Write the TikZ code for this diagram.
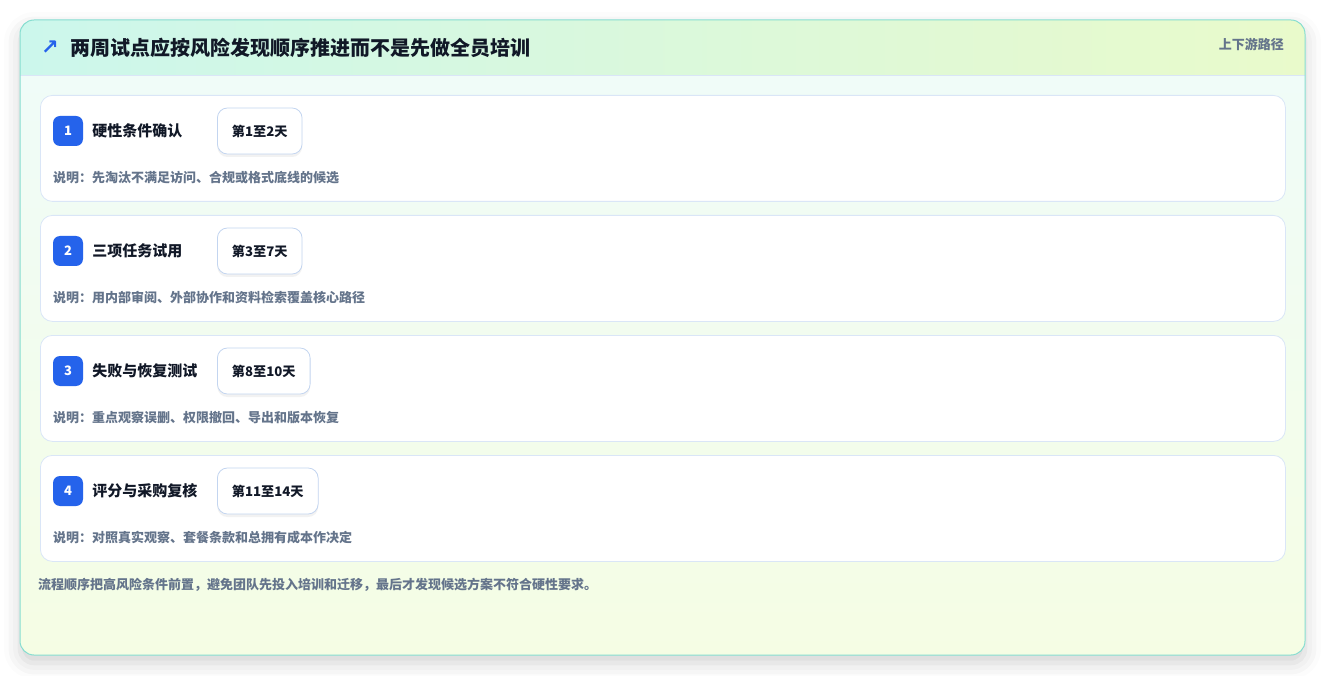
\documentclass[tikz,border=0pt]{standalone}
\usepackage{fontspec}
\setmainfont{Noto Sans CJK SC}
\newfontfamily\symfont{DejaVu Sans}
\usepackage{xcolor}
\usepackage{tikz}
\usetikzlibrary{positioning,shadows,shadows.blur}

\definecolor{accent}{HTML}{2563EB}
\definecolor{ink}{HTML}{111827}
\definecolor{muted}{HTML}{64748B}
\definecolor{edge}{HTML}{86DDD0}
\definecolor{cardline}{HTML}{DAE6F7}
\definecolor{pillline}{HTML}{C3D5F0}
\definecolor{headL}{HTML}{CCF7EC}
\definecolor{headR}{HTML}{E9FACB}
\definecolor{bodyT}{HTML}{EFFCFA}
\definecolor{bodyB}{HTML}{F5FDE4}

\tikzset{
  stepcard/.style={draw=cardline, fill=white, line width=0.8pt, rounded corners=12pt,
    minimum width=1245pt, minimum height=106pt, anchor=north west, inner sep=0pt},
  badge/.style={fill=accent, text=white, rounded corners=7pt, minimum size=30pt,
    inner sep=0pt, font=\bfseries\fontsize{13}{13}\selectfont},
  steptitle/.style={anchor=west, inner sep=0pt, text=ink,
    font=\bfseries\fontsize{15}{15}\selectfont},
  daypill/.style={anchor=west, draw=pillline, fill=white, line width=0.8pt,
    rounded corners=10pt, minimum height=46pt, inner xsep=14.5pt, text=ink,
    font=\bfseries\fontsize{13.2}{13.2}\selectfont,
    drop shadow={shadow xshift=0pt, shadow yshift=-3pt, fill=black, opacity=0.05}},
  note/.style={anchor=west, inner sep=0pt, text=muted,
    font=\bfseries\fontsize{13}{13}\selectfont}
}

\begin{document}
\begin{tikzpicture}[x=1pt, y=-1pt]
  \useasboundingbox (0,0) rectangle (1325,676);

  % Panel
  \fill[white, rounded corners=14pt,
    blur shadow={shadow xshift=0pt, shadow yshift=-8pt, shadow blur radius=16pt, shadow opacity=18}]
    (20,20) rectangle (1305,655);
  \shade[top color=bodyT, bottom color=bodyB, rounded corners=14pt] (20,20) rectangle (1305,655);
  \begin{scope}
    \clip[rounded corners=14pt] (20,20) rectangle (1305,655);
    \shade[left color=headL, right color=headR] (20,20) rectangle (1305,75);
  \end{scope}
  \draw[cardline] (20,75) -- (1305,75);
  \draw[edge, line width=1pt, rounded corners=14pt] (20,20) rectangle (1305,655);

  % Header
  \node[text=accent, font=\symfont\bfseries\fontsize{21}{21}\selectfont] (icon) at (50,48) {↗};
  \node[anchor=west, inner sep=0pt, text=ink, font=\bfseries\fontsize{20}{20}\selectfont]
    (heading) at (70,48) {两周试点应按风险发现顺序推进而不是先做全员培训};
  \node[anchor=east, inner sep=0pt, text=muted, font=\bfseries\fontsize{13}{13}\selectfont]
    (tag) at (1284,44) {上下游路径};

  % Step 1
  \node[stepcard] (card1) at (40,95) {};
  \node[badge] (badge1) at (68,131) {1};
  \node[steptitle, right=9pt of badge1] (title1) {硬性条件确认};
  \node[daypill] (days1) at (217,131) {第1至2天};
  \node[note] (note1) at (53,178) {说明：先淘汰不满足访问、合规或格式底线的候选};

  % Step 2
  \node[stepcard] (card2) at (40,215) {};
  \node[badge] (badge2) at (68,251) {2};
  \node[steptitle, right=9pt of badge2] (title2) {三项任务试用};
  \node[daypill] (days2) at (217,251) {第3至7天};
  \node[note] (note2) at (53,298) {说明：用内部审阅、外部协作和资料检索覆盖核心路径};

  % Step 3
  \node[stepcard] (card3) at (40,335) {};
  \node[badge] (badge3) at (68,371) {3};
  \node[steptitle, right=9pt of badge3] (title3) {失败与恢复测试};
  \node[daypill] (days3) at (217,371) {第8至10天};
  \node[note] (note3) at (53,418) {说明：重点观察误删、权限撤回、导出和版本恢复};

  % Step 4
  \node[stepcard] (card4) at (40,455) {};
  \node[badge] (badge4) at (68,491) {4};
  \node[steptitle, right=9pt of badge4] (title4) {评分与采购复核};
  \node[daypill] (days4) at (217,491) {第11至14天};
  \node[note] (note4) at (53,538) {说明：对照真实观察、套餐条款和总拥有成本作决定};

  % Footer
  \node[anchor=west, inner sep=0pt, text=muted, font=\bfseries\fontsize{13}{13}\selectfont]
    (summary) at (38,585) {流程顺序把高风险条件前置，避免团队先投入培训和迁移，最后才发现候选方案不符合硬性要求。};
\end{tikzpicture}
\end{document}
